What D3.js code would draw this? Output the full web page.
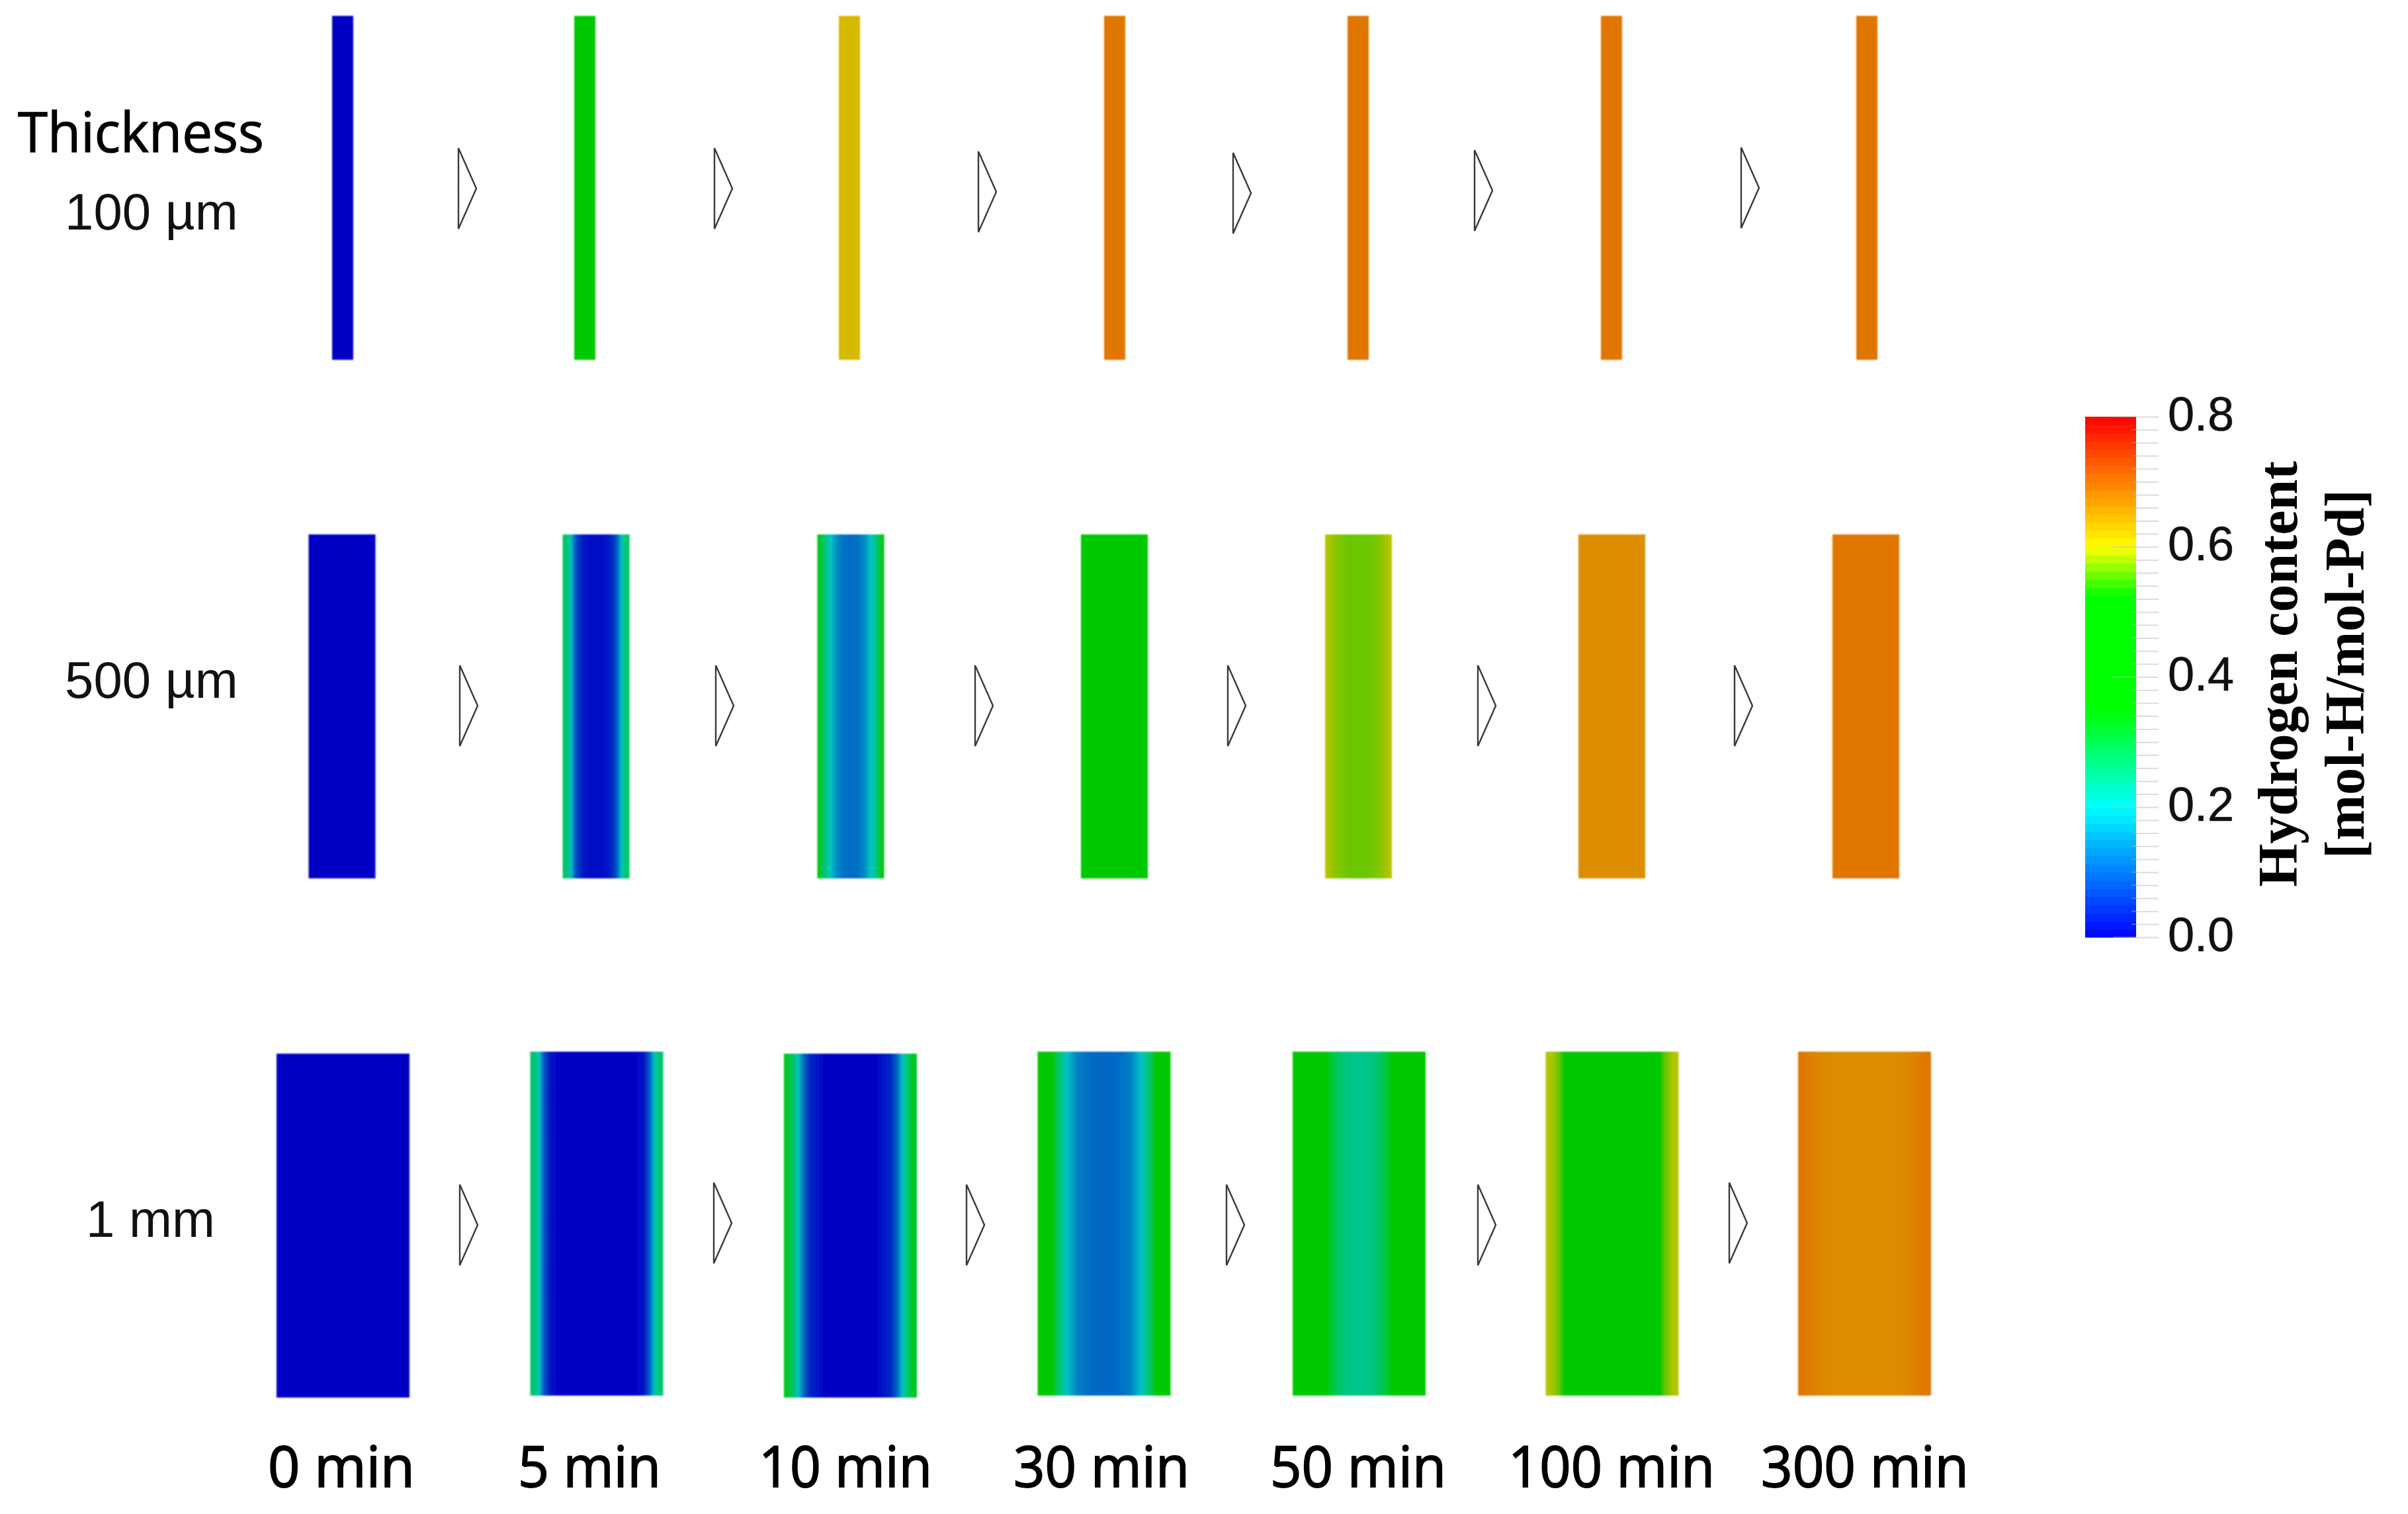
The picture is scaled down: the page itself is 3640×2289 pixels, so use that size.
<!DOCTYPE html>
<html>
<head>
<meta charset="utf-8">
<script src="https://cdn.jsdelivr.net/npm/d3@7/dist/d3.min.js"></script>
<style>html,body{margin:0;padding:0;background:#fff}svg{display:block}</style>
</head>
<body>
<div id="chart"></div>
<script>
// ---------- DATA ----------
const times = ["0 min","5 min","10 min","30 min","50 min","100 min","300 min"];
const thicknesses = ["100 µm","500 µm","1 mm"];
const legendTicks = [0,0.2,0.4,0.6,0.8];
const legendTitle = ["Hydrogen content","[mol-H/mol-Pd]"];
// fractions of the way from a face to the mid-plane, at which each profile is read
const depth = [0,0.03,0.06,0.1,0.15,0.2,0.3,0.4,0.5];
// hydrogen content, face to mid-plane (mirrored about the mid-plane)
const profile100um = [
  [0,0,0,0,0,0,0,0,0],
  [.43,.43,.43,.43,.43,.43,.43,.43,.43],
  [.61,.61,.61,.61,.61,.61,.61,.61,.61],
  [.68,.68,.68,.68,.68,.68,.68,.68,.68],
  [.68,.68,.68,.68,.68,.68,.68,.68,.68],
  [.68,.68,.68,.68,.68,.68,.68,.68,.68],
  [.68,.68,.68,.68,.68,.68,.68,.68,.68]
];
const profile500um = [
  [0,0,0,0,0,0,0,0,0],
  [.28,.27,.26,.23,.15,.08,.025,.015,.015],
  [.34,.33,.31,.27,.23,.2,.14,.115,.11],
  [.43,.43,.43,.43,.43,.43,.43,.43,.43],
  [.592,.59,.585,.58,.575,.57,.565,.562,.562],
  [.655,.655,.655,.655,.655,.655,.655,.655,.655],
  [.68,.68,.68,.68,.68,.68,.68,.68,.68]
];
const profile1mm = [
  [0,0,0,0,0,0,0,0,0],
  [.27,.26,.22,.1,.02,.005,0,0,0],
  [.33,.32,.28,.22,.1,.04,.005,0,0],
  [.41,.41,.41,.37,.28,.22,.13,.11,.105],
  [.43,.43,.43,.43,.42,.4,.3,.25,.24],
  [.592,.588,.58,.56,.52,.47,.43,.43,.43],
  [.68,.68,.675,.67,.665,.66,.655,.655,.655]
];
const profiles = [profile100um, profile500um, profile1mm];

// ---------- LAYOUT ----------
const W = 3640, H = 2289;
const colourDomain = [0,.2,.35,.524,.6,.8];
const legendColours = ["#0000ff","#00ffff","#00ff00","#00ff00","#ffff00","#ff0000"];
const barColours = ["#0000c4","#00c4c4","#00c800","#00c800","#d4c400","#f00000"];
const barColour = d3.scaleLinear().domain(colourDomain).range(barColours);
const legendColour = d3.scaleLinear().domain(colourDomain).range(legendColours);

// Each row's columns sit at slightly different places in the source figure, so the
// column scale is an ordinal one per row.
const xBar = [
  d3.scaleOrdinal(times,[518,884,1284,1685,2053,2436,2822]),
  d3.scaleOrdinal(times,[517,901,1286,1684.5,2053.5,2436.5,2820.5]),
  d3.scaleOrdinal(times,[518.5,902,1285.5,1669,2054.5,2437,2818.5])
];
const barWidth = d3.scaleOrdinal(thicknesses,[32,101,201]);
const barTop = d3.scaleOrdinal(thicknesses,[24,808,1590]);
const barHeight = 520;
const barDrop = [[0,0,0,0,0,0,0],[0,0,0,0,0,0,0],[3,0,3,0,0,0,0]];

const xArrow = [
  d3.scaleOrdinal(times,[693,1080,1479,1864,2229,2632]),
  d3.scaleOrdinal(times,[695,1082,1474,1856,2234,2622]),
  d3.scaleOrdinal(times,[695,1079,1461,1854,2234,2614])
];
const yArrow = [
  [224,224,229,231,227,223],
  [1006,1006,1006,1006,1006,1006],
  [1791,1788,1791,1791,1791,1788]
];
const arrowW = 27, arrowH = 122;
const arrowLine = d3.line().curve(d3.curveLinearClosed);

const svg = d3.select("#chart").append("svg").attr("width",W).attr("height",H).attr("viewBox",`0 0 ${W} ${H}`);
const defs = svg.append("defs");
defs.append("filter").attr("id","soft").attr("x","-5%").attr("y","-5%").attr("width","110%").attr("height","110%")
  .append("feGaussianBlur").attr("stdDeviation",1);

// ---------- BARS ----------
const gradientOffsets = d3.range(101).map(i=>i/100);
const bars = svg.append("g").attr("filter","url(#soft)");
thicknesses.forEach((t,r)=>{
  times.forEach((m,c)=>{
    const contentAt = d3.scaleLinear().domain(depth).range(profiles[r][c]);
    const id = `g${r}${c}`;
    defs.append("linearGradient").attr("id",id)
      .selectAll("stop").data(gradientOffsets).join("stop")
      .attr("offset",d=>d)
      .attr("stop-color",d=>barColour(contentAt(Math.min(d,1-d))));
    bars.append("rect")
      .attr("x",xBar[r](m)-barWidth(t)/2)
      .attr("y",barTop(t)+barDrop[r][c])
      .attr("width",barWidth(t)).attr("height",barHeight)
      .attr("fill",`url(#${id})`);
  });
});

// ---------- ARROWS ----------
const arrows = svg.append("g").attr("fill","#fff").attr("stroke","#3a3a3a").attr("stroke-width",2.4).attr("stroke-linejoin","miter");
thicknesses.forEach((t,r)=>{
  times.slice(0,-1).forEach((m,c)=>{
    const x = xArrow[r](m), y = yArrow[r][c];
    arrows.append("path").attr("d",arrowLine([[x,y],[x+arrowW,y+arrowH/2],[x,y+arrowH]]));
  });
});

// ---------- TEXT ----------
const calibriLike = "'Open Sans','Noto Sans',sans-serif";
const arial = "'Liberation Sans',Arial,sans-serif";
svg.append("text").text("Thickness").attr("x",27).attr("y",230)
  .attr("font-family",calibriLike).attr("font-size",84).attr("stroke","#000").attr("stroke-width",1.2)
  .attr("textLength",372).attr("lengthAdjust","spacingAndGlyphs");
const rowLabelX = d3.scaleOrdinal(thicknesses,[98,98,130]);
const rowLabelY = d3.scaleOrdinal(thicknesses,[347,1055,1870]);
svg.append("g").selectAll("text").data(thicknesses).join("text").text(d=>d)
  .attr("x",d=>rowLabelX(d)).attr("y",d=>rowLabelY(d))
  .attr("font-family",arial).attr("font-size",78).attr("fill","#111");
const xLabel = d3.scaleOrdinal(times,[516,891,1278,1665,2053,2436,2819]);
const labelWidth = d3.scaleOrdinal(times,[222,216,262,266,266,312,314]);
svg.append("g").selectAll("text").data(times).join("text").text(d=>d)
  .attr("x",d=>xLabel(d)-labelWidth(d)/2).attr("y",2248)
  .attr("font-family",calibriLike).attr("font-size",86).attr("fill","#000")
  .attr("stroke","#000").attr("stroke-width",1.8)
  .attr("textLength",d=>labelWidth(d)).attr("lengthAdjust","spacingAndGlyphs");

// ---------- COLOUR BAR ----------
const yLegend = d3.scaleLinear().domain([0,.8]).range([1417,630]);
const legendX = 3152, legendW = 77;
const bandCount = 64;
const bandEdges = d3.range(bandCount).map(i=>i/bandCount*0.8);
svg.append("g").selectAll("rect").data(bandEdges).join("rect")
  .attr("x",legendX).attr("width",legendW)
  .attr("y",d=>yLegend(d+0.8/bandCount))
  .attr("height",d=>yLegend(d)-yLegend(d+0.8/bandCount)+0.6)
  .attr("fill",d=>legendColour(d+0.4/bandCount));

const minorValues = d3.range(41).map(i=>i*0.02);
const axis = d3.axisRight(yLegend).tickValues(minorValues).tickSize(34).tickPadding(14)
  .tickFormat(v=>legendTicks.some(t=>Math.abs(t-v)<1e-6)?d3.format(".1f")(v):"");
const axisG = svg.append("g").attr("transform",`translate(${legendX+legendW},0)`).call(axis);
axisG.select(".domain").remove();
axisG.selectAll(".tick line").attr("stroke","#dcdcdc").attr("stroke-width",2);
axisG.selectAll(".tick text")
  .attr("font-family",arial).attr("font-size",72).attr("fill","#111").attr("dy",20)
  .attr("stroke","#111").attr("stroke-width",.6);
// ticks also reach into the bar: short for the minor ones, long for the major ones
svg.append("g").selectAll("line").data(minorValues).join("line")
  .attr("x1",d=>legendX+legendW-(legendTicks.some(t=>Math.abs(t-d)<1e-6)?35:7))
  .attr("x2",legendX+legendW)
  .attr("y1",d=>yLegend(d)).attr("y2",d=>yLegend(d))
  .attr("stroke","#bbb").attr("stroke-opacity",.55).attr("stroke-width",1.5);

const titleX = d3.scaleOrdinal(legendTitle,[3472,3573]);
const titleLen = d3.scaleOrdinal(legendTitle,[644,558]);
svg.append("g").selectAll("text").data(legendTitle).join("text").text(d=>d)
  .attr("transform",d=>`translate(${titleX(d)},1019) rotate(-90)`)
  .attr("x",d=>-titleLen(d)/2)
  .attr("font-family","'Liberation Serif','Times New Roman',serif")
  .attr("font-weight","bold").attr("font-size",84).attr("fill","#000")
  .attr("textLength",d=>titleLen(d)).attr("lengthAdjust","spacingAndGlyphs");
</script>
</body>
</html>
